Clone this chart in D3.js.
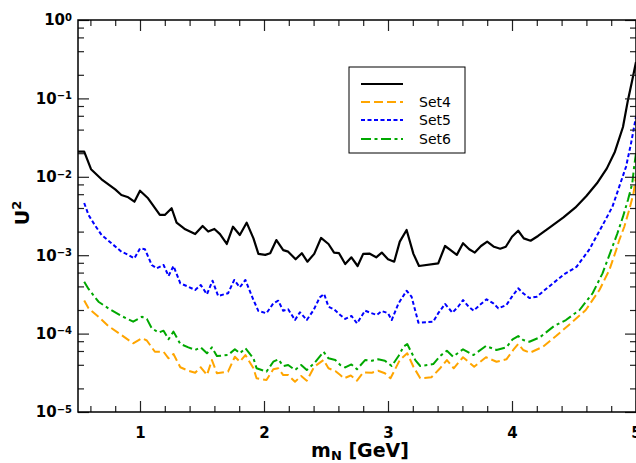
<!DOCTYPE html>
<html>
<head>
<meta charset="utf-8">
<script src="https://cdn.jsdelivr.net/npm/d3@7"></script>
<style>
body { margin: 0; background: #fff; }
svg { display: block; font-family: "DejaVu Sans", sans-serif; }
</style>
</head>
<body>
<svg width="636" height="463"></svg>
<script>
'use strict';
// data (mass in GeV, U^2)
const massBlack = [0.50,0.55,0.605,0.69,0.80,0.85,0.905,0.955,1.00,1.065,1.16,1.20,1.255,1.295,1.365,1.445,1.505,1.55,1.60,1.645,
	1.70,1.75,1.805,1.86,1.915,1.955,2.01,2.05,2.10,2.155,2.195,2.255,2.305,2.35,2.405,2.46,2.52,2.565,2.605,2.655,
	2.705,2.755,2.80,2.85,2.905,2.95,3.00,3.05,3.095,3.15,3.205,3.25,3.405,3.46,3.505,3.555,3.605,3.655,3.70,3.75,
	3.80,3.855,3.905,3.95,4.00,4.05,4.095,4.15,4.21,4.305,4.415,4.51,4.60,4.685,4.765,4.83,4.895,4.935,4.97,5.00]
const u2Black = [2.09e-2,2.09e-2,1.25e-2,9.3e-3,6.9e-3,5.86e-3,5.48e-3,4.81e-3,6.65e-3,5.32e-3,3.26e-3,3.26e-3,3.97e-3,2.6e-3,2.14e-3,1.86e-3,2.36e-3,2.0e-3,2.16e-3,1.86e-3,
	1.39e-3,2.31e-3,1.81e-3,2.6e-3,1.64e-3,1.04e-3,1.01e-3,1.06e-3,1.56e-3,1.16e-3,1.11e-3,8.87e-4,1.06e-3,8.26e-4,1.04e-3,1.66e-3,1.39e-3,1.08e-3,1.06e-3,7.72e-4,
	9.4e-4,7.28e-4,1.04e-3,1.05e-3,9.4e-4,1.08e-3,8.87e-4,8.26e-4,1.49e-3,2.1e-3,1.04e-3,7.28e-4,7.88e-4,1.31e-3,1.16e-3,1.01e-3,1.42e-3,1.19e-3,1.08e-3,1.31e-3,
	1.49e-3,1.28e-3,1.21e-3,1.28e-3,1.72e-3,2.05e-3,1.64e-3,1.53e-3,1.76e-3,2.27e-3,3.04e-3,4.04e-3,5.69e-3,8.26e-3,1.28e-2,2.09e-2,4.32e-2,9.5e-2,0.172,0.291]

const massSet5 = [0.55,0.585,0.635,0.69,0.77,0.85,0.905,0.955,1.00,1.04,1.095,1.135,1.19,1.23,1.27,1.325,1.39,1.445,1.49,1.54,
	1.585,1.63,1.71,1.76,1.805,1.85,1.915,1.955,2.02,2.075,2.115,2.155,2.195,2.25,2.29,2.345,2.40,2.45,2.485,2.52,
	2.565,2.615,2.655,2.705,2.75,2.815,2.855,2.91,2.95,3.00,3.03,3.085,3.15,3.19,3.245,3.365,3.405,3.46,3.52,3.565,
	3.605,3.65,3.69,3.74,3.795,3.85,3.89,3.955,4.00,4.05,4.09,4.14,4.20,4.30,4.42,4.52,4.62,4.665,4.73,4.81,
	4.865,4.92,4.96,5.00]
const u2Set5 = [4.63e-3,3.26e-3,2.43e-3,1.81e-3,1.42e-3,1.11e-3,1.01e-3,9.12e-4,1.22e-3,1.19e-3,7.5e-4,6.8e-4,7.5e-4,5.43e-4,7.28e-4,4.38e-4,3.96e-4,3.6e-4,4.17e-4,3.17e-4,
	4.73e-4,3.02e-4,3.27e-4,4.83e-4,3.9e-4,4.83e-4,2.68e-4,1.94e-4,1.82e-4,2.43e-4,2.63e-4,1.96e-4,2.04e-4,1.49e-4,1.87e-4,1.49e-4,2.0e-4,2.9e-4,3.2e-4,2.2e-4,
	2.04e-4,1.73e-4,1.54e-4,1.68e-4,1.35e-4,1.96e-4,1.85e-4,1.73e-4,1.94e-4,1.82e-4,1.49e-4,2.43e-4,3.52e-4,2.96e-4,1.38e-4,1.42e-4,1.82e-4,2.39e-4,1.85e-4,2.2e-4,
	2.68e-4,2.2e-4,1.96e-4,2.32e-4,2.74e-4,2.43e-4,2.1e-4,2.32e-4,2.96e-4,3.78e-4,3.27e-4,2.84e-4,2.96e-4,4.0e-4,5.7e-4,7.1e-4,1.16e-3,1.56e-3,2.4e-3,4.16e-3,
	7.48e-3,1.35e-2,2.67e-2,5.85e-2]

const massSet6 = [0.55,0.585,0.665,0.745,0.85,0.945,1.015,1.055,1.095,1.15,1.19,1.23,1.27,1.325,1.39,1.445,1.49,1.54,1.58,1.62,
	1.71,1.765,1.805,1.85,1.915,1.94,2.02,2.075,2.115,2.155,2.195,2.25,2.30,2.345,2.405,2.48,2.52,2.575,2.615,2.655,
	2.705,2.75,2.815,2.87,2.92,2.975,3.03,3.085,3.125,3.155,3.22,3.26,3.365,3.42,3.475,3.525,3.605,3.69,3.79,3.875,
	3.955,4.005,4.05,4.09,4.14,4.225,4.34,4.435,4.545,4.65,4.73,4.80,4.85,4.895,4.935,4.97,4.985,5.00]
const u2Set6 = [4.59e-4,3.71e-4,2.55e-4,2.1e-4,1.68e-4,1.42e-4,1.64e-4,1.54e-4,1.17e-4,1.03e-4,1.09e-4,8.46e-5,1.06e-4,7.37e-5,6.68e-5,6.18e-5,6.68e-5,5.61e-5,6.68e-5,5.18e-5,
	5.33e-5,6.31e-5,5.61e-5,6.49e-5,4.84e-5,3.61e-5,3.27e-5,4.38e-5,4.7e-5,3.86e-5,3.97e-5,3.43e-5,3.97e-5,3.43e-5,4.18e-5,5.87e-5,4.84e-5,4.6e-5,3.97e-5,3.7e-5,
	4.04e-5,3.51e-5,4.6e-5,4.51e-5,4.7e-5,4.51e-5,3.86e-5,5.18e-5,6.8e-5,7.37e-5,4.6e-5,3.86e-5,4.09e-5,5.18e-5,6.05e-5,5.07e-5,6.31e-5,5.33e-5,6.95e-5,6.18e-5,
	6.68e-5,8.46e-5,9.31e-5,8.28e-5,7.88e-5,8.97e-5,1.25e-4,1.49e-4,2.0e-4,3.27e-4,5.87e-4,1.16e-3,1.9e-3,3.1e-3,5.06e-3,8.26e-3,1.35e-2,2.0e-2]

const massSet4 = [0.55,0.585,0.665,0.745,0.85,0.945,1.015,1.055,1.12,1.19,1.23,1.27,1.325,1.39,1.445,1.49,1.54,1.58,1.62,1.71,
	1.765,1.805,1.85,1.915,1.94,2.02,2.075,2.115,2.155,2.195,2.25,2.30,2.345,2.405,2.48,2.52,2.575,2.615,2.645,2.70,
	2.75,2.80,2.87,2.92,2.975,3.02,3.095,3.155,3.205,3.26,3.35,3.42,3.475,3.53,3.605,3.695,3.79,3.875,3.955,4.01,
	4.05,4.09,4.145,4.25,4.355,4.49,4.595,4.705,4.785,4.84,4.865,4.905,4.945,4.98,5.00]
const u2Set4 = [2.64e-4,2.1e-4,1.64e-4,1.25e-4,9.6e-5,7.52e-5,8.71e-5,8.17e-5,5.87e-5,5.87e-5,4.84e-5,5.49e-5,3.72e-5,3.36e-5,3.17e-5,3.72e-5,2.96e-5,4.6e-5,3.12e-5,3.27e-5,
	5.07e-5,4.38e-5,5.33e-5,3.61e-5,2.69e-5,2.56e-5,3.51e-5,3.61e-5,2.96e-5,2.96e-5,2.43e-5,2.88e-5,2.51e-5,3.78e-5,4.6e-5,3.61e-5,3.33e-5,2.96e-5,2.69e-5,2.92e-5,
	2.51e-5,3.19e-5,3.17e-5,3.36e-5,3.12e-5,2.69e-5,4.6e-5,5.61e-5,3.78e-5,2.69e-5,2.77e-5,3.61e-5,4.6e-5,3.61e-5,4.99e-5,3.78e-5,4.99e-5,4.38e-5,4.7e-5,6.18e-5,
	7.37e-5,6.18e-5,5.7e-5,6.8e-5,9.3e-5,1.42e-4,2.0e-4,3.6e-4,6.47e-4,1.16e-3,1.56e-3,2.29e-3,3.78e-3,6.17e-3,1.0e-2]

const legendLabels = ["", "Set4", "Set5", "Set6"]
const xMajor = [1, 2, 3, 4, 5]
const yMajor = [1e-5, 1e-4, 1e-3, 1e-2, 1e-1, 1]

// layout
let eSvg = d3.select("svg")
let dLeft = 78, dRight = 636, dTop = 20, dBottom = 412

let sX = d3.scaleLinear().domain([0.5, 5]).range([dLeft, dRight])
let sY = d3.scaleLog().domain([1e-5, 1]).range([dBottom, dTop])

let xMinor = d3.range(0.6, 4.95, 0.2).filter(v => Math.abs(v - Math.round(v)) > 0.01)
let yMinor = [].concat(...[-5, -4, -3, -2, -1].map(e => [2, 4, 6, 8].map(k => k * Math.pow(10, e))))

// series: mass array, value array, colour, dash
let aSeries = [
	{m: massBlack, u: u2Black, col: "#000000", dash: null, w: 2.2},
	{m: massSet4, u: u2Set4, col: "#ffa500", dash: "9,4", w: 2},
	{m: massSet5, u: u2Set5, col: "#0000ff", dash: "4,2.5", w: 2},
	{m: massSet6, u: u2Set6, col: "#00a800", dash: "10,3.5,3,3.5", w: 2}]

eSvg.append("clipPath").attr("id", "plotclip")
	.append("rect")
	.attr("x", dLeft).attr("y", dTop)
	.attr("width", dRight - dLeft).attr("height", dBottom - dTop)

let fLine = d3.line().x(d => sX(d[0])).y(d => sY(d[1]))

eSvg.append("g").attr("clip-path", "url(#plotclip)")
	.selectAll("path")
	.data(aSeries)
	.enter()
	.append("path")
	.attr("d", s => fLine(s.m.map((v, i) => [v, s.u[i]])))
	.attr("fill", "none")
	.attr("stroke", s => s.col)
	.attr("stroke-width", s => s.w)
	.attr("stroke-dasharray", s => s.dash)
	.attr("stroke-linejoin", "round")

// axes, ticks pointing inward on all four sides
function styleAxis(g) {
	g.select(".domain").remove()
	g.selectAll(".tick line").attr("stroke", "#222").attr("stroke-width", 1.2)}

eSvg.append("g").attr("transform", `translate(0,${dBottom})`)
	.call(d3.axisBottom(sX).tickValues(xMajor).tickSize(-11).tickPadding(15).tickFormat(d3.format("d")))
	.call(styleAxis)
	.selectAll("text").attr("font-size", 15).attr("font-weight", "bold")
	.attr("font-family", "DejaVu Sans").attr("fill", "#000")
eSvg.append("g").attr("transform", `translate(0,${dBottom})`)
	.call(d3.axisBottom(sX).tickValues(xMinor).tickSize(-6).tickFormat(""))
	.call(styleAxis)
eSvg.append("g").attr("transform", `translate(0,${dTop})`)
	.call(d3.axisTop(sX).tickValues(xMajor).tickSize(-11).tickFormat(""))
	.call(styleAxis)
eSvg.append("g").attr("transform", `translate(0,${dTop})`)
	.call(d3.axisTop(sX).tickValues(xMinor).tickSize(-6).tickFormat(""))
	.call(styleAxis)

let eLeft = eSvg.append("g").attr("transform", `translate(${dLeft},0)`)
	.call(d3.axisLeft(sY).tickValues(yMajor).tickSize(-11).tickPadding(6).tickFormat(""))
	.call(styleAxis)
eLeft.selectAll(".tick text").each(function(d) {
	let t = d3.select(this)
		.attr("font-size", 15).attr("font-weight", "bold")
		.attr("font-family", "DejaVu Sans").attr("fill", "#000")
	t.append("tspan").text("10")
	t.append("tspan").attr("font-size", 10).attr("dy", "-0.45em")
		.text(String(Math.round(Math.log10(d))).replace("-", "\u2212"))})
eSvg.append("g").attr("transform", `translate(${dLeft},0)`)
	.call(d3.axisLeft(sY).tickValues(yMinor).tickSize(-6).tickFormat(""))
	.call(styleAxis)
eSvg.append("g").attr("transform", `translate(${dRight},0)`)
	.call(d3.axisRight(sY).tickValues(yMajor).tickSize(-11).tickFormat(""))
	.call(styleAxis)
eSvg.append("g").attr("transform", `translate(${dRight},0)`)
	.call(d3.axisRight(sY).tickValues(yMinor).tickSize(-6).tickFormat(""))
	.call(styleAxis)

// frame
eSvg.append("rect")
	.attr("x", dLeft).attr("y", dTop)
	.attr("width", dRight - dLeft).attr("height", dBottom - dTop)
	.attr("fill", "none").attr("stroke", "#000").attr("stroke-width", 1.5)

// axis titles
let eXT = eSvg.append("text")
	.attr("x", (dLeft + dRight) / 2 + 3).attr("y", 457)
	.attr("text-anchor", "middle").attr("font-size", 19).attr("font-weight", "bold")
eXT.append("tspan").text("m")
eXT.append("tspan").attr("font-size", 13).attr("dy", 3).text("N")
eXT.append("tspan").attr("dy", -3).text(" [GeV]")

let eYT = eSvg.append("text")
	.attr("transform", "translate(29,213) rotate(-90)")
	.attr("text-anchor", "middle").attr("font-size", 19).attr("font-weight", "bold")
eYT.append("tspan").text("U")
eYT.append("tspan").attr("font-size", 13).attr("dy", -8).text("2")

// legend
let eLeg = eSvg.append("g")
eLeg.append("rect")
	.attr("x", 349).attr("y", 67).attr("width", 116).attr("height", 86)
	.attr("fill", "#fff").attr("stroke", "#000").attr("stroke-width", 1)
let eItems = eLeg.selectAll("g.item")
	.data(aSeries)
	.enter()
	.append("g")
	.attr("class", "item")
	.attr("transform", (d, i) => `translate(0,${[84, 102, 120, 139][i]})`)
eItems.append("line")
	.attr("x1", 361).attr("x2", 403)
	.attr("stroke", s => s.col)
	.attr("stroke-width", s => s.w)
	.attr("stroke-dasharray", s => s.dash)
eItems.append("text")
	.attr("x", 419).attr("y", 5)
	.attr("font-size", 14)
	.text((d, i) => legendLabels[i])
</script>
</body>
</html>
